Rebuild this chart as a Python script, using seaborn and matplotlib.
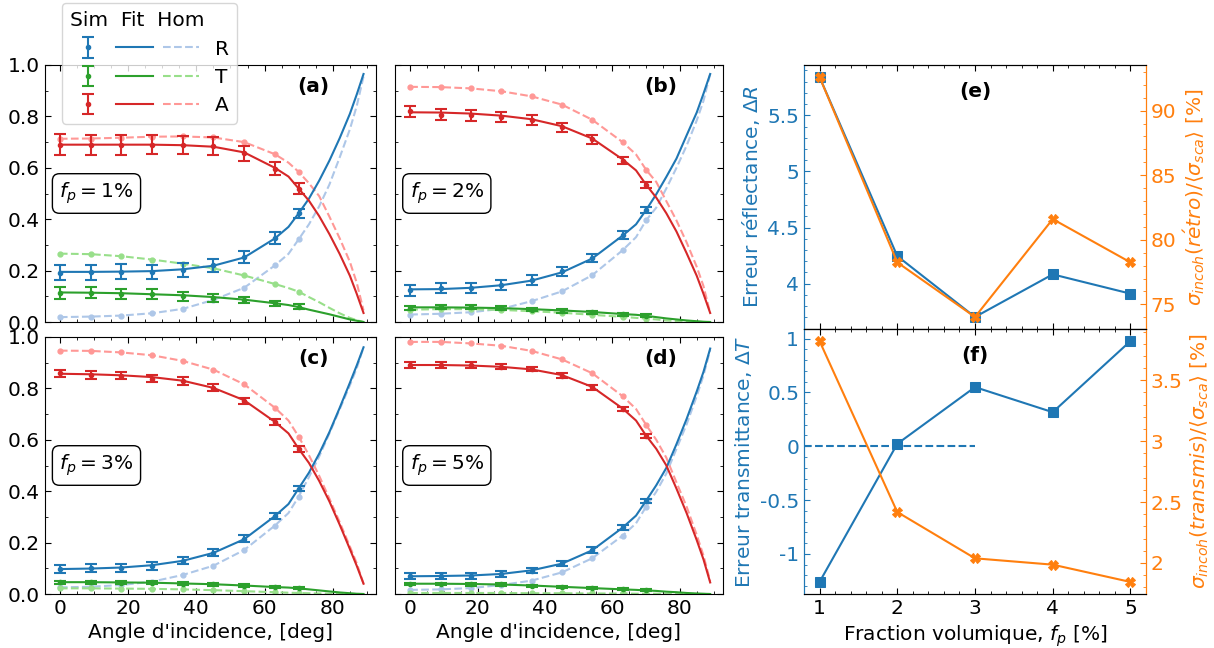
import matplotlib
matplotlib.use('Agg')
import matplotlib.pyplot as plt
import seaborn as sns
from matplotlib.lines import Line2D
from matplotlib.legend_handler import HandlerTuple
from matplotlib.ticker import AutoMinorLocator, FuncFormatter

# angles (deg)
angles_sim = [0, 9, 18, 27, 36, 45, 54, 63, 70]
angles_fit = [0, 9, 18, 27, 36, 45, 54, 63, 67, 70, 73, 76, 79, 82, 85, 87, 89]

# f_p = 1 %
R_sim_a = [0.192, 0.193, 0.195, 0.195, 0.201, 0.221, 0.253, 0.327, 0.423]
T_sim_a = [0.113, 0.114, 0.110, 0.109, 0.100, 0.094, 0.085, 0.072, 0.059]
A_sim_a = [0.689, 0.688, 0.689, 0.690, 0.689, 0.685, 0.656, 0.597, 0.519]
R_err_a = [0.030, 0.030, 0.029, 0.028, 0.027, 0.026, 0.024, 0.022, 0.017]
T_err_a = [0.022, 0.021, 0.020, 0.019, 0.017, 0.015, 0.013, 0.011, 0.010]
A_err_a = [0.041, 0.040, 0.039, 0.038, 0.036, 0.034, 0.030, 0.026, 0.020]
R_fit_a = [0.195, 0.195, 0.196, 0.198, 0.205, 0.219, 0.251, 0.325, 0.370, 0.423, 0.480,
           0.550, 0.628, 0.715, 0.810, 0.885, 0.965]
T_fit_a = [0.115, 0.114, 0.112, 0.108, 0.104, 0.097, 0.087, 0.073, 0.066, 0.058, 0.048,
           0.039, 0.030, 0.020, 0.010, 0.005, 0.0]
A_fit_a = [0.690, 0.690, 0.690, 0.690, 0.688, 0.682, 0.660, 0.600, 0.566, 0.519, 0.472,
           0.412, 0.342, 0.265, 0.180, 0.110, 0.035]
R_hom_a = [0.019, 0.021, 0.025, 0.034, 0.051, 0.086, 0.133, 0.220, 0.265, 0.322, 0.380,
           0.450, 0.535, 0.640, 0.750, 0.840, 0.955]
T_hom_a = [0.266, 0.264, 0.256, 0.243, 0.227, 0.209, 0.181, 0.148, 0.132, 0.118, 0.097,
           0.077, 0.055, 0.034, 0.016, 0.007, 0.0]
A_hom_a = [0.713, 0.714, 0.717, 0.721, 0.722, 0.718, 0.700, 0.653, 0.620, 0.584, 0.540,
           0.490, 0.410, 0.326, 0.234, 0.153, 0.045]

# f_p = 2 %
R_sim_b = [0.123, 0.131, 0.133, 0.145, 0.162, 0.197, 0.249, 0.338, 0.436]
T_sim_b = [0.055, 0.058, 0.057, 0.055, 0.048, 0.043, 0.038, 0.030, 0.025]
A_sim_b = [0.820, 0.807, 0.804, 0.797, 0.787, 0.758, 0.711, 0.628, 0.532]
R_err_b = [0.020, 0.020, 0.020, 0.019, 0.019, 0.018, 0.017, 0.015, 0.013]
T_err_b = [0.008, 0.008, 0.008, 0.008, 0.007, 0.007, 0.006, 0.006, 0.005]
A_err_b = [0.021, 0.020, 0.021, 0.020, 0.019, 0.018, 0.017, 0.014, 0.012]
R_fit_b = [0.127, 0.128, 0.133, 0.143, 0.161, 0.193, 0.247, 0.336, 0.380, 0.436, 0.497,
           0.565, 0.636, 0.726, 0.815, 0.888, 0.965]
T_fit_b = [0.057, 0.057, 0.056, 0.054, 0.050, 0.045, 0.039, 0.031, 0.028, 0.024, 0.019,
           0.014, 0.010, 0.006, 0.003, 0.001, 0.0]
A_fit_b = [0.816, 0.815, 0.811, 0.803, 0.789, 0.762, 0.714, 0.633, 0.590, 0.534, 0.484,
           0.423, 0.352, 0.268, 0.180, 0.110, 0.035]
R_hom_b = [0.029, 0.032, 0.038, 0.051, 0.081, 0.119, 0.182, 0.279, 0.330, 0.396, 0.445,
           0.520, 0.600, 0.686, 0.784, 0.860, 0.965]
T_hom_b = [0.048, 0.050, 0.050, 0.047, 0.042, 0.036, 0.028, 0.020, 0.016, 0.013, 0.010,
           0.006, 0.004, 0.002, 0.001, 0.0, 0.0]
A_hom_b = [0.915, 0.914, 0.909, 0.898, 0.878, 0.846, 0.787, 0.700, 0.652, 0.592, 0.545,
           0.470, 0.395, 0.310, 0.215, 0.140, 0.035]

# f_p = 3 %
R_sim_c = [0.097, 0.100, 0.102, 0.110, 0.130, 0.161, 0.215, 0.305, 0.409]
T_sim_c = [0.045, 0.045, 0.044, 0.043, 0.040, 0.037, 0.033, 0.028, 0.023]
A_sim_c = [0.859, 0.852, 0.850, 0.838, 0.829, 0.803, 0.751, 0.668, 0.564]
R_err_c = [0.016, 0.016, 0.015, 0.015, 0.014, 0.014, 0.013, 0.012, 0.010]
T_err_c = [0.006, 0.006, 0.006, 0.006, 0.005, 0.005, 0.005, 0.004, 0.004]
A_err_c = [0.014, 0.015, 0.014, 0.014, 0.014, 0.013, 0.012, 0.011, 0.010]
R_fit_c = [0.097, 0.099, 0.103, 0.112, 0.129, 0.160, 0.213, 0.303, 0.350, 0.411, 0.472,
           0.546, 0.630, 0.724, 0.822, 0.889, 0.960]
T_fit_c = [0.046, 0.046, 0.045, 0.044, 0.041, 0.038, 0.033, 0.027, 0.025, 0.022, 0.018,
           0.014, 0.010, 0.006, 0.003, 0.001, 0.0]
A_fit_c = [0.857, 0.855, 0.851, 0.844, 0.830, 0.802, 0.754, 0.670, 0.625, 0.565, 0.510,
           0.440, 0.360, 0.270, 0.175, 0.110, 0.040]
R_hom_c = [0.026, 0.028, 0.035, 0.048, 0.074, 0.110, 0.171, 0.266, 0.315, 0.379, 0.455,
           0.535, 0.625, 0.718, 0.812, 0.878, 0.960]
T_hom_c = [0.022, 0.022, 0.021, 0.020, 0.018, 0.015, 0.011, 0.007, 0.005, 0.004, 0.003,
           0.002, 0.001, 0.0, 0.0, 0.0, 0.0]
A_hom_c = [0.947, 0.946, 0.940, 0.929, 0.907, 0.873, 0.816, 0.725, 0.675, 0.612, 0.540,
           0.460, 0.371, 0.280, 0.185, 0.120, 0.040]

# f_p = 5 %
R_sim_d = [0.070, 0.069, 0.070, 0.077, 0.091, 0.119, 0.171, 0.259, 0.363]
T_sim_d = [0.039, 0.039, 0.038, 0.038, 0.031, 0.027, 0.023, 0.019, 0.016]
A_sim_d = [0.891, 0.891, 0.891, 0.885, 0.875, 0.850, 0.804, 0.720, 0.616]
R_err_d = [0.012, 0.012, 0.012, 0.011, 0.011, 0.010, 0.010, 0.009, 0.008]
T_err_d = [0.005, 0.005, 0.005, 0.005, 0.004, 0.004, 0.004, 0.004, 0.003]
A_err_d = [0.010, 0.010, 0.010, 0.010, 0.009, 0.009, 0.009, 0.008, 0.008]
R_fit_d = [0.069, 0.070, 0.072, 0.078, 0.092, 0.118, 0.170, 0.258, 0.305, 0.363, 0.423,
           0.491, 0.583, 0.681, 0.788, 0.864, 0.955]
T_fit_d = [0.040, 0.040, 0.039, 0.037, 0.033, 0.028, 0.023, 0.018, 0.016, 0.014, 0.012,
           0.009, 0.007, 0.004, 0.002, 0.001, 0.0]
A_fit_d = [0.891, 0.891, 0.889, 0.884, 0.874, 0.852, 0.806, 0.722, 0.675, 0.616, 0.565,
           0.500, 0.410, 0.315, 0.210, 0.135, 0.045]
R_hom_d = [0.016, 0.018, 0.023, 0.035, 0.052, 0.084, 0.139, 0.227, 0.275, 0.340, 0.398,
           0.469, 0.565, 0.660, 0.770, 0.850, 0.950]
T_hom_d = [0.004, 0.004, 0.004, 0.004, 0.003, 0.003, 0.002, 0.002, 0.001, 0.001, 0.001,
           0.0, 0.0, 0.0, 0.0, 0.0, 0.0]
A_hom_d = [0.981, 0.981, 0.975, 0.966, 0.946, 0.913, 0.859, 0.770, 0.720, 0.658, 0.600,
           0.530, 0.434, 0.340, 0.230, 0.150, 0.050]

# right column
fp = [1, 2, 3, 4, 5]
err_R = [5.842, 4.246, 3.703, 4.083, 3.911]
sig_retro = [92.6, 78.25, 74.02, 81.6, 78.25]
err_T = [-1.261, 0.022, 0.549, 0.316, 0.977]
sig_transmis = [3.822, 2.418, 2.038, 1.986, 1.844]

sns.set_style('ticks')
plt.rcParams.update({
    'font.family': ['DejaVu Sans'],
    'font.size': 14.5,
    'text.color': 'black',
    'axes.labelcolor': 'black',
    'axes.edgecolor': 'black',
    'xtick.color': 'black',
    'ytick.color': 'black',
    'xtick.direction': 'in',
    'ytick.direction': 'in',
    'xtick.top': True,
    'ytick.right': True,
    'xtick.major.size': 4,
    'ytick.major.size': 4,
    'xtick.minor.size': 2,
    'ytick.minor.size': 2,
    'lines.solid_capstyle': 'projecting',
})

C = {'R': '#1f77b4', 'T': '#2ca02c', 'A': '#d62728'}
L = {'R': '#aec7e8', 'T': '#98df8a', 'A': '#ff9896'}
dot_idx = [angles_fit.index(a) for a in angles_sim]

W, H = 1214, 648
fig = plt.figure(figsize=(W / 100, H / 100), dpi=100)
ax_a = fig.add_axes([44.5 / W, 1 - 322 / H, 332 / W, 257 / H])
ax_b = fig.add_axes([395 / W, 1 - 322 / H, 328 / W, 257 / H])
ax_c = fig.add_axes([44.5 / W, 1 - 594 / H, 332 / W, 257 / H])
ax_d = fig.add_axes([395 / W, 1 - 594 / H, 328 / W, 257 / H])
ax_e = fig.add_axes([804 / W, 1 - 329 / H, 342 / W, 264 / H])
ax_f = fig.add_axes([804 / W, 1 - 594 / H, 342 / W, 265 / H])

panels = [
    (ax_a, '(a)', 1, (R_sim_a, T_sim_a, A_sim_a), (R_err_a, T_err_a, A_err_a),
     (R_fit_a, T_fit_a, A_fit_a), (R_hom_a, T_hom_a, A_hom_a)),
    (ax_b, '(b)', 2, (R_sim_b, T_sim_b, A_sim_b), (R_err_b, T_err_b, A_err_b),
     (R_fit_b, T_fit_b, A_fit_b), (R_hom_b, T_hom_b, A_hom_b)),
    (ax_c, '(c)', 3, (R_sim_c, T_sim_c, A_sim_c), (R_err_c, T_err_c, A_err_c),
     (R_fit_c, T_fit_c, A_fit_c), (R_hom_c, T_hom_c, A_hom_c)),
    (ax_d, '(d)', 5, (R_sim_d, T_sim_d, A_sim_d), (R_err_d, T_err_d, A_err_d),
     (R_fit_d, T_fit_d, A_fit_d), (R_hom_d, T_hom_d, A_hom_d)),
]

leg_handles = {}
for ax, letter, f, sims, errs, fits, homs in panels:
    for k, sim, err, fit, hom in zip('RTA', sims, errs, fits, homs):
        sns.lineplot(x=angles_fit, y=hom, ax=ax, color=L[k], lw=1.5, linestyle='--', zorder=2)
        ax.plot(angles_sim, [hom[i] for i in dot_idx], 'o', ms=3.5, color=L[k], zorder=2)
        sns.lineplot(x=angles_fit, y=fit, ax=ax, color=C[k], lw=1.5, zorder=3)
        eb = ax.errorbar(angles_sim, sim, yerr=err, fmt='o', ms=3, color=C[k],
                         elinewidth=1.5, capsize=4, capthick=1.5, zorder=4)
        if ax is ax_a:
            leg_handles[k] = eb
    ax.set_xlim(-4.5, 92.8)
    ax.set_ylim(0, 1)
    ax.set_xticks([0, 20, 40, 60, 80])
    ax.set_yticks([0, 0.2, 0.4, 0.6, 0.8, 1.0])
    ax.xaxis.set_minor_locator(AutoMinorLocator(4))
    ax.yaxis.set_minor_locator(AutoMinorLocator(2))
    ax.tick_params(which='both', top=True, right=True, direction='in')
    ax.text(0.81, 0.915, letter, transform=ax.transAxes, ha='center', va='center',
            fontweight='bold', fontsize=14.5)
    ax.text(0.045, 0.5, r'$f_p = %d\%%$' % f, transform=ax.transAxes, ha='left', va='center',
            fontsize=14.5, bbox=dict(boxstyle='round,pad=0.35', fc='white', ec='black', lw=1))
    if ax in (ax_b, ax_d):
        ax.tick_params(labelleft=False)
    if ax in (ax_a, ax_b):
        ax.tick_params(labelbottom=False)
    else:
        ax.set_xlabel("Angle d'incidence, [deg]")

# legend
handles = [(leg_handles[k], Line2D([], [], color=C[k], lw=1.5),
            Line2D([], [], color=L[k], lw=1.5, ls='--')) for k in 'RTA']
fig.legend(handles, ['R', 'T', 'A'], title='Sim  Fit  Hom', loc='upper left',
           bbox_to_anchor=(62 / W, 1 - 3 / H), borderaxespad=0,
           handler_map={tuple: HandlerTuple(ndivide=None, pad=0.5)},
           handlelength=6.4, handletextpad=0.8, labelspacing=0.47,
           alignment='left', fontsize=14.5, title_fontsize=14.5)

# right column
fmt = FuncFormatter(lambda v, p: f'{v:g}')
blue, orange = '#1f77b4', '#ff7f0e'
for ax, y1, y2, lab1, lab2, letter in [
        (ax_e, err_R, sig_retro, r'Erreur réflectance, $\Delta R$',
         r'$\sigma_{incoh}(r\acute{e}tro)/\langle\sigma_{sca}\rangle$ [%]', '(e)'),
        (ax_f, err_T, sig_transmis, r'Erreur transmittance, $\Delta T$',
         r'$\sigma_{incoh}(transmis)/\langle\sigma_{sca}\rangle$ [%]', '(f)')]:
    sns.lineplot(x=fp, y=y1, ax=ax, color=blue, lw=1.5, marker='s', ms=7,
                 markeredgecolor=blue)
    ax2 = ax.twinx()
    sns.lineplot(x=fp, y=y2, ax=ax2, color=orange, lw=1.5, marker='X', ms=7,
                 markeredgecolor=orange)
    ax.set_ylabel(lab1, color=blue)
    ax2.set_ylabel(lab2, color=orange)
    ax.set_xticks(fp)
    ax.xaxis.set_minor_locator(AutoMinorLocator())
    ax.yaxis.set_minor_locator(AutoMinorLocator())
    ax2.yaxis.set_minor_locator(AutoMinorLocator())
    ax.yaxis.set_major_formatter(fmt)
    ax2.yaxis.set_major_formatter(fmt)
    ax.tick_params(axis='x', which='both', top=True, bottom=True, direction='in')
    ax.tick_params(axis='y', which='both', colors=blue, direction='in')
    ax2.tick_params(axis='y', which='both', colors=orange, direction='in')
    for a in (ax, ax2):
        a.spines['left'].set_color(blue)
        a.spines['right'].set_color(orange)
    ax.text(0.5, 0.9, letter, transform=ax.transAxes, ha='center', va='center',
            fontweight='bold', fontsize=14.5)
    if ax is ax_e:
        ax.tick_params(labelbottom=False)
    else:
        ax.axhline(0, xmax=0.5, color=blue, lw=1.5, ls='--')
        ax.set_xlabel(r'Fraction volumique, $f_p$ [%]')
    ax.set_xlim(0.8, 5.2)

fig.savefig('out.png', dpi=100)
